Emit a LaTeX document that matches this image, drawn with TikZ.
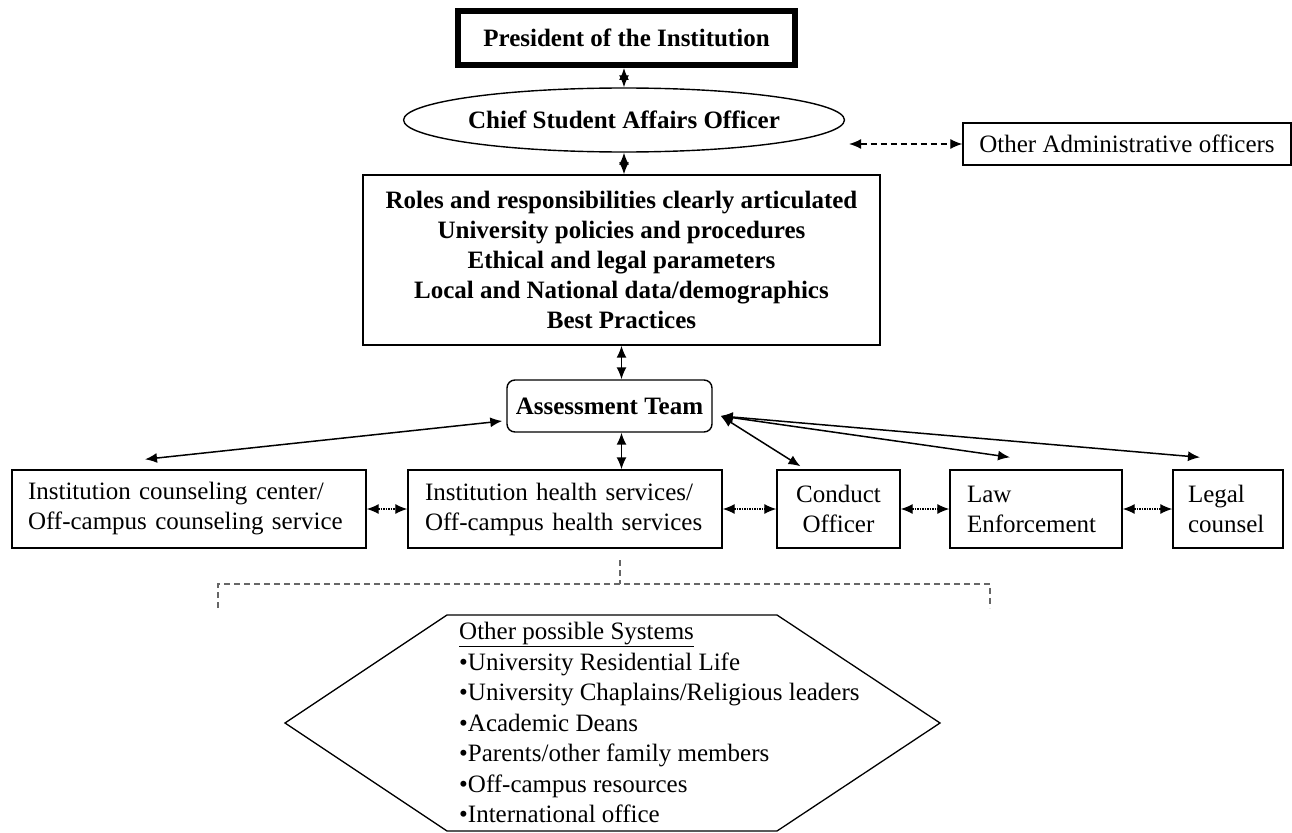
\documentclass[tikz,border=0pt]{standalone}
\usepackage{fontspec}
\setmainfont{Liberation Serif}
\usetikzlibrary{positioning,shapes.geometric,arrows.meta}

\begin{document}
\begin{tikzpicture}[x=1pt,y=-1pt]
  \tikzset{box/.style={draw, line width=1.4pt, inner sep=0pt,
      font=\fontsize{25}{30}\selectfont},
    boldbox/.style={box, font=\fontsize{25}{30}\selectfont\bfseries},
    unitbox/.style={box, minimum height=78pt},
    link/.style={{Latex[length=12pt,width=10pt]}-{Latex[length=12pt,width=10pt]}, line width=1.5pt},
    peerlink/.style={link, densely dotted, line width=1.2pt},
    bracket/.style={gray!80!black, line width=2pt, dash pattern=on 6pt off 4pt}
  }

  \useasboundingbox (0,0) rectangle (1292,832);

  % top of the chain
  \node[boldbox, line width=6pt, minimum width=337pt, minimum height=54pt] (pres) at (626.5,38) {President of the Institution};
  \node[boldbox, ellipse, minimum width=368pt, minimum height=64pt] (cso) at (624,120) {Chief Student Affairs Officer};
  \node[boldbox, align=center, minimum width=517pt, minimum height=170pt] (roles) at (621.5,260)
  {Roles and responsibilities clearly articulated\\
    University policies and procedures\\
    Ethical and legal parameters\\
    Local and National data/demographics\\
    Best Practices};
  \node[boldbox, rounded corners=8pt, minimum width=205pt, minimum height=52pt] (team) at (609.5,406) {Assessment Team};
  \node[box, minimum width=328pt, minimum height=42pt] (admin) at (1127,144) {Other Administrative officers};

  % units around the team
  \node[unitbox, minimum width=354pt, text width=322pt, align=left] (counsel) at (189,509)
  {Institution counseling center/\\Off-campus counseling service};
  \node[unitbox, minimum width=314pt, text width=280pt, align=left] (health) at (565,509)
  {Institution health services/\\Off-campus health services};
  \node[unitbox, minimum width=123pt, align=center] (conduct) at (838.5,509) {Conduct\\Officer};
  \node[unitbox, minimum width=172pt, text width=138pt, align=left] (law) at (1036,509) {Law\\Enforcement};
  \node[unitbox, minimum width=110pt, text width=80pt, align=left] (legal) at (1228,509) {Legal\\counsel};

  \draw[link] (cso.north |- pres.south) -- (cso.north);
  \draw[link] (cso.south) -- (cso.south |- roles.north);
  \draw[link, line width=1.2pt, dash pattern=on 6pt off 4pt] ([xshift=4pt]cso.east |- admin.west) -- (admin.west);
  \draw[link] (roles.south) -- (roles.south |- team.north);
  \draw[link] (roles.south |- team.south) -- (roles.south |- health.north);

  \coordinate (hub) at ([xshift=8pt,yshift=-10pt]team.east);
  \draw[link] ([xshift=-4pt,yshift=-15pt]team.west) -- ([xshift=-44pt,yshift=10pt]counsel.north);
  \draw[link] (hub) -- ([xshift=-38pt,yshift=3pt]conduct.north);
  \draw[link] (hub) -- ([xshift=-26pt,yshift=12pt]law.north);
  \draw[link] (hub) -- ([xshift=-28pt,yshift=12pt]legal.north);

  \draw[peerlink] (counsel) -- (health);
  \draw[peerlink] (health) -- (conduct);
  \draw[peerlink] (conduct) -- (law);
  \draw[peerlink] (law) -- (legal);

  % other systems
  \draw[bracket] (620,560) -- (620,584);
  \draw[bracket] (218,608) -- (218,584) -- (990,584) -- (990,608);
  \draw[line width=1.3pt] (447,615) -- (777,615) -- (940,723) -- (777,831) -- (447,831) -- (285,723) -- cycle;
  \node[font=\fontsize{25}{30.5}\selectfont, align=left, anchor=north west, inner sep=0pt] (systems) at (459,622)
  {\underline{Other possible Systems}\\
    \textbullet University Residential Life\\
    \textbullet University Chaplains/Religious leaders\\
    \textbullet Academic Deans\\
    \textbullet Parents/other family members\\
    \textbullet Off-campus resources\\
    \textbullet International office};
\end{tikzpicture}
\end{document}
